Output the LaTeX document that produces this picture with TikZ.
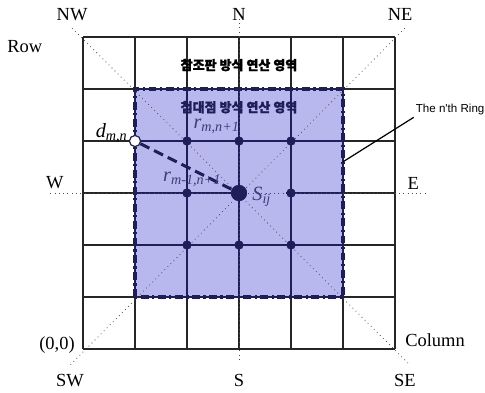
\documentclass[tikz,border=0pt]{standalone}
\usepackage{fontspec}
\setmainfont{Liberation Serif}
\newfontfamily\krfont{Noto Sans CJK KR}[BoldFeatures={FakeBold=1.5}]
\newfontfamily\ringfont{Liberation Sans}
\usetikzlibrary{positioning}

\definecolor{ringfill}{RGB}{184,184,238}
\definecolor{navy}{RGB}{30,30,90}
\definecolor{labnavy}{RGB}{60,60,120}

\newcommand{\sublab}[2]{\textit{#1}\textsubscript{\textit{#2}}}

\begin{document}
\begin{tikzpicture}[
  x=1.04cm, y=1.04cm,
  cellline/.style={draw=black!85, line width=0.8pt},
  innerline/.style={draw=navy, line width=0.6pt},
  guide/.style={draw=black!70, dotted, line width=0.45pt},
  ringline/.style={draw=navy, line width=2pt, dash pattern=on 4.5pt off 2pt on 1.2pt off 2pt},
  pathline/.style={draw=navy, line width=1.7pt, dash pattern=on 5.7pt off 3pt},
  dot/.style={circle, fill=navy, inner sep=0pt, minimum size=0.18cm},
  bigdot/.style={circle, fill=navy, inner sep=0pt, minimum size=0.32cm},
  hollow/.style={circle, draw=navy, fill=white, line width=0.6pt, inner sep=0pt, minimum size=0.22cm},
  compass/.style={font=\fontsize{10.5}{12}\selectfont},
  krlabel/.style={font=\krfont\bfseries\fontsize{7.4}{9}\selectfont},
  mathlabel/.style={font=\fontsize{11.5}{13}\selectfont, text=labnavy, inner sep=1pt}
]
  \useasboundingbox (-1.596,-0.827) rectangle (7.731,6.712);

  % outer board
  \foreach \i in {0,...,6} {
    \draw[cellline] (\i,0) -- (\i,6);
    \draw[cellline] (0,\i) -- (6,\i);
  }

  % shaded ring region
  \fill[ringfill] (1,1) rectangle (5,5);
  \foreach \i in {1,...,5} {
    \draw[innerline] (\i,1) -- (\i,5);
    \draw[innerline] (1,\i) -- (5,\i);
  }

  % end points of the direction lines
  \coordinate (nwend) at (-0.21,6.17);
  \coordinate (seend) at (6.29,-0.31);
  \coordinate (neend) at (6.19,6.17);
  \coordinate (swend) at (-0.25,-0.31);
  \coordinate (nend) at (3,6.35);
  \coordinate (send) at (3,-0.25);
  \coordinate (wend) at (-0.63,3);
  \coordinate (eend) at (6.58,3);

  % points inside the ring
  \node[dot] (p24) at (2,4) {};
  \node[dot] (p34) at (3,4) {};
  \node[dot] (p44) at (4,4) {};
  \node[dot] (p23) at (2,3) {};
  \node[dot] (p43) at (4,3) {};
  \node[dot] (p22) at (2,2) {};
  \node[dot] (p32) at (3,2) {};
  \node[dot] (p42) at (4,2) {};
  \node[bigdot] (sij) at (3,3) {};
  \node[hollow] (dmn) at (1,4) {};

  % gap in the row line right of S_ij
  \draw[ringfill, line width=1.2pt] (sij) -- (p43);

  % direction lines
  \draw[guide] (nwend) -- (seend);
  \draw[guide] (neend) -- (swend);
  \draw[guide] (nend) -- (send);
  \draw[guide] (wend) -- (eend);

  % the n'th ring
  \draw[ringline] (1,1) rectangle (5,5);
  \coordinate (ringpt) at (5,3.6);

  % distance path
  \draw[pathline] (dmn) -- (sij);

  % redraw the points on top
  \foreach \p in {p24,p34,p44,p23,p43,p22,p32,p42}
    \fill[navy] (\p) circle (0.09cm);
  \fill[navy] (sij) circle (0.16cm);
  \draw[navy, fill=white, line width=0.6pt] (dmn) circle (0.11cm);

  % compass labels
  \node[compass] (nw) at (-0.21,6.44) {NW};
  \node[compass] (n) at (3,6.44) {N};
  \node[compass] (ne) at (6.1,6.44) {NE};
  \node[compass] (w) at (-0.54,3.21) {W};
  \node[compass] (e) at (6.35,3.19) {E};
  \node[compass] (sw) at (-0.25,-0.6) {SW};
  \node[compass] (s) at (3,-0.6) {S};
  \node[compass] (se) at (6.19,-0.6) {SE};
  \node[compass] (row) at (-1.12,5.81) {Row};
  \node[compass] (column) at (6.77,0.17) {Column};
  \node[compass] (origin) at (-0.5,0.08) {(0,0)};

  % region titles
  \node[krlabel] (lutarea) at (3,5.46) {참조판 방식 연산 영역};
  \node[krlabel, text=navy] (p2parea) at (3,4.65) {첨대점 방식 연산 영역};

  % point labels
  \node[mathlabel, text=black, anchor=east] (dlab) at (0.9,4.15) {\sublab{d}{m,n}};
  \node[mathlabel] (rlab) at (2.57,4.29) {\sublab{r}{m,n+1}};
  \node[mathlabel] (rrlab) at (2.1,3.27) {\sublab{r}{m-1,n+1}};
  \node[mathlabel] (slab) at (3.44,2.92) {\sublab{S}{ij}};

  % ring callout
  \node[font=\ringfont\fontsize{6.6}{8}\selectfont, anchor=west, inner sep=1pt] (ringlab) at (6.36,4.6) {The n'th Ring};
  \draw[black, line width=0.7pt] (ringpt) -- (ringlab.south west);
\end{tikzpicture}
\end{document}
